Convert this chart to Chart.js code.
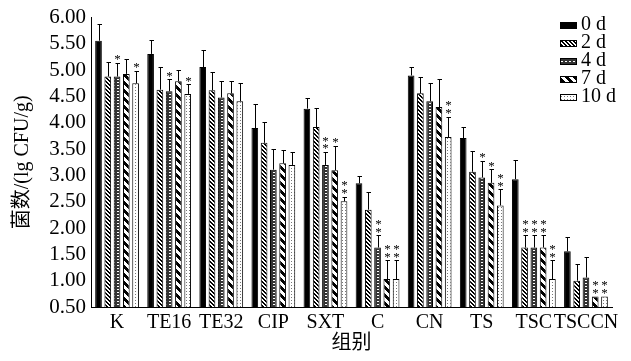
<!DOCTYPE html>
<html>
<head>
<meta charset="utf-8">
<script src="https://cdn.jsdelivr.net/npm/chart.js@4/dist/chart.umd.min.js"></script>
<style>
  html, body { margin: 0; padding: 0; background: #fff; }
  #wrap { width: 631px; height: 361px; }
</style>
</head>
<body>
<div id="wrap"><canvas id="chart" width="631" height="361"></canvas></div>
<script>
// groups on the x axis
const groups = ['K', 'TE16', 'TE32', 'CIP', 'SXT', 'C', 'CN', 'TS', 'TSC', 'TSCCN'];
const dayLabels = ['0 d', '2 d', '4 d', '7 d', '10 d'];
const yTicks = [0.5, 1, 1.5, 2, 2.5, 3, 3.5, 4, 4.5, 5, 5.5, 6];

// mean counts (lg CFU/g)
const day0 = [5.56, 5.31, 5.06, 3.90, 4.27, 2.85, 4.90, 3.71, 2.93, 1.56];
const day2 = [4.88, 4.63, 4.62, 3.62, 3.92, 2.35, 4.56, 3.07, 1.63, 1.00];
const day4 = [4.88, 4.60, 4.48, 3.11, 3.20, 1.63, 4.41, 2.96, 1.63, 1.06];
const day7 = [4.93, 4.79, 4.56, 3.23, 3.10, 1.03, 4.30, 2.86, 1.63, 0.70];
const day10 = [4.75, 4.55, 4.41, 3.20, 2.51, 1.03, 3.73, 2.43, 1.03, 0.70];

// standard deviations (upper error bars)
const sd0 = [0.31, 0.27, 0.32, 0.45, 0.21, 0.14, 0.16, 0.22, 0.36, 0.27];
const sd2 = [0.28, 0.43, 0.35, 0.39, 0.37, 0.34, 0.32, 0.40, 0.23, 0.31];
const sd4 = [0.26, 0.23, 0.31, 0.39, 0.25, 0.23, 0.35, 0.32, 0.23, 0.39];
const sd7 = [0.28, 0.22, 0.23, 0.25, 0.46, 0.36, 0.53, 0.26, 0.23, 0.00];
const sd10 = [0.24, 0.18, 0.35, 0.25, 0.09, 0.36, 0.39, 0.31, 0.36, 0.00];

// significance marks
const sig0 = ['', '', '', '', '', '', '', '', '', ''];
const sig2 = ['', '', '', '', '', '', '', '', '**', ''];
const sig4 = ['*', '*', '', '', '**', '**', '', '*', '**', ''];
const sig7 = ['', '', '', '', '*', '**', '', '*', '**', '**'];
const sig10 = ['*', '*', '', '', '**', '**', '**', '**', '**', '**'];

const fam = "'Liberation Serif', 'Noto Sans CJK SC', serif";

function makePattern(w, h, draw) {
    const c = document.createElement('canvas');
    c.width = w; c.height = h;
    const g = c.getContext('2d');
    draw(g);
    return g.createPattern(c, 'repeat');
}

const fills = [
    '#000',
    // fine hatch
    makePattern(4, 4, g => {
        g.fillStyle = '#fff'; g.fillRect(0, 0, 4, 4);
        g.fillStyle = '#000';
        for (let y = 0; y < 4; y++) for (let x = 0; x < 4; x++)
            if (((x - y + 8) % 4) < 2) g.fillRect(x, y, 1, 1);
    }),
    // dark with small white blocks
    makePattern(4, 3, g => {
        g.fillStyle = '#333'; g.fillRect(0, 0, 4, 3);
        g.fillStyle = '#fff'; g.fillRect(1, 1, 2, 1);
    }),
    // thick stripes
    makePattern(8, 8, g => {
        g.fillStyle = '#fff'; g.fillRect(0, 0, 8, 8);
        g.fillStyle = '#000';
        for (let y = 0; y < 8; y++) for (let x = 0; x < 8; x++)
            if (((x - y + 16) % 8) < 4) g.fillRect(x, y, 1, 1);
    }),
    // light dots
    makePattern(3, 3, g => {
        g.fillStyle = '#fff'; g.fillRect(0, 0, 3, 3);
        g.fillStyle = '#777'; g.fillRect(0, 0, 1, 1);
    })
];

const series = [day0, day2, day4, day7, day10];
const sds = [sd0, sd2, sd4, sd7, sd10];
const sigs = [sig0, sig2, sig4, sig7, sig10];

const errorBars = {
    id: 'errorBars',
    afterDatasetsDraw(chart) {
        const ctx = chart.ctx;
        const y = chart.scales.y;
        ctx.save();
        ctx.strokeStyle = '#000';
        ctx.lineWidth = 1;
        chart.data.datasets.forEach((ds, di) => {
            const meta = chart.getDatasetMeta(di);
            meta.data.forEach((bar, i) => {
                const top = y.getPixelForValue(ds.data[i] + sds[di][i]);
                const x = Math.round(bar.x) + 0.5;
                if (sds[di][i] > 0) {
                    ctx.beginPath();
                    ctx.moveTo(x, bar.y);
                    ctx.lineTo(x, Math.round(top) + 0.5);
                    ctx.moveTo(x - 2, Math.round(top) + 0.5);
                    ctx.lineTo(x + 2.5, Math.round(top) + 0.5);
                    ctx.stroke();
                }
                const mark = sigs[di][i];
                if (mark) {
                    ctx.fillStyle = '#000';
                    ctx.font = '13px ' + fam;
                    ctx.textAlign = 'center';
                    ctx.textBaseline = 'middle';
                    for (let k = 0; k < mark.length; k++) {
                        ctx.fillText('*', x, top - 3 - k * 7.5);
                    }
                }
            });
        });
        ctx.restore();
    }
};

const cornerLegend = {
    id: 'cornerLegend',
    afterDraw(chart) {
        const ctx = chart.ctx;
        ctx.save();
        ctx.font = '20px ' + fam;
        ctx.textBaseline = 'middle';
        ctx.textAlign = 'left';
        chart.data.datasets.forEach((ds, i) => {
            const cy = 25 + i * 18;
            ctx.fillStyle = ds.backgroundColor;
            ctx.fillRect(560, cy - 3, 17, 7);
            ctx.strokeStyle = '#000';
            ctx.lineWidth = 1;
            ctx.strokeRect(560.5, cy - 2.5, 16, 6);
            ctx.fillStyle = '#000';
            ctx.fillText(ds.label, 581, cy);
        });
        ctx.restore();
    }
};

new Chart(document.getElementById('chart'), {
    type: 'bar',
    data: {
        labels: groups,
        datasets: series.map((vals, i) => ({
            label: dayLabels[i],
            data: vals,
            backgroundColor: fills[i],
            borderColor: '#000',
            borderWidth: 1,
            categoryPercentage: 0.89,
            barPercentage: 0.72
        }))
    },
    options: {
        responsive: false,
        animation: false,
        layout: { padding: { top: 16, right: 19, left: 0, bottom: 0 } },
        plugins: {
            legend: { display: false },
            tooltip: { enabled: false }
        },
        scales: {
            x: {
                grid: { display: false, drawTicks: false },
                border: { display: true, color: '#000', width: 1 },
                ticks: { color: '#000', font: { family: fam, size: 20 }, padding: 4, maxRotation: 0, autoSkip: false },
                title: { display: true, text: '组别', color: '#000', font: { family: fam, size: 20 }, padding: { top: 0, bottom: 5 } },
                afterFit(scale) { scale.height = 54; }
            },
            y: {
                min: 0.5,
                max: 6,
                afterBuildTicks(scale) { scale.ticks = yTicks.map(v => ({ value: v })); },
                grid: { display: false, drawTicks: false },
                border: { display: true, color: '#000', width: 1 },
                ticks: { color: '#000', font: { family: fam, size: 21 }, padding: 5, autoSkip: false, callback: v => Number(v).toFixed(2) },
                title: { display: true, text: '菌数/(lg CFU/g)', color: '#000', font: { family: fam, size: 20 }, padding: { top: 11, bottom: 0 } },
                afterFit(scale) { scale.width = 91; }
            }
        }
    },
    plugins: [errorBars, cornerLegend]
});
</script>
</body>
</html>
